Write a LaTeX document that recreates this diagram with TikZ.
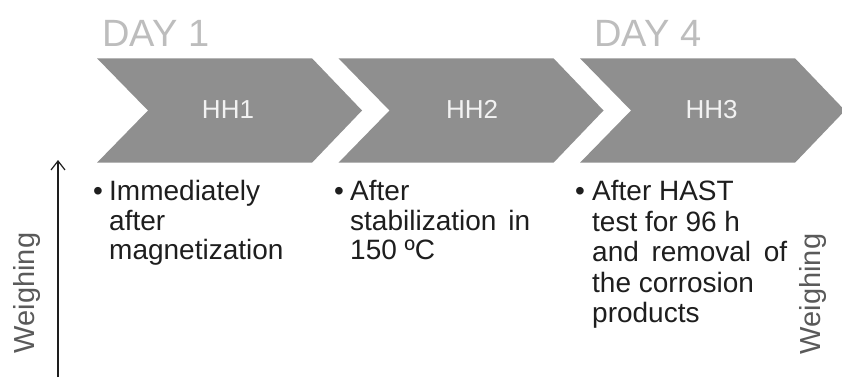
\documentclass[tikz,border=0pt]{standalone}
\usepackage{fontspec}
\setmainfont{Liberation Sans}
\usetikzlibrary{arrows.meta}
\definecolor{chev}{HTML}{8F8F8F}
\definecolor{daygray}{HTML}{BDBDBD}
\definecolor{hhtext}{HTML}{F2F2F2}
\definecolor{bodytext}{HTML}{1E1E1E}
\definecolor{weightext}{HTML}{5A5A5A}
\begin{document}
\begin{tikzpicture}[x=1pt,y=-1pt,
  chevron/.style={fill=chev, draw=none},
  day/.style={text=daygray, font=\fontsize{38}{40}\selectfont, inner sep=0, anchor=base west},
  hh/.style={text=hhtext, font=\fontsize{26}{28}\selectfont, inner sep=0, anchor=base},
  body/.style={text=bodytext, font=\fontsize{28}{30}\selectfont, inner sep=0, anchor=base west},
  weigh/.style={text=weightext, font=\fontsize{29}{31}\selectfont, inner sep=0, anchor=base, rotate=90},
  weigharrow/.style={draw=bodytext, line width=1.2pt, -{Straight Barb[length=9pt,width=14pt]}}]

\useasboundingbox[fill=white] (0,0) rectangle (842,377);

% chevrons
\foreach \dx in {0, 241.5, 483} {
  \fill[chevron] ({97+\dx},58.3) -- ({312+\dx},58.3) -- ({362+\dx},110.5)
     -- ({312+\dx},162.7) -- ({97+\dx},162.7) -- ({148+\dx},110.5) -- cycle;
}

% day labels
\node[day] (day1) at (102,46.5) {DAY 1};
\node[day] (day4) at (594,46.5) {DAY 4};

% chevron labels
\node[hh] (hh1) at (228,118.5) {HH1};
\node[hh] (hh2) at (472,118.5) {HH2};
\node[hh] (hh3) at (711.5,118.5) {HH3};

% column 1
\node[body] (c1b) at (93,200.5) {•};
\node[body] (c1l1) at (109,200.5) {Immediately};
\node[body] (c1l2) at (109,230) {after};
\node[body] (c1l3) at (109,259.5) {magnetization};

% column 2
\node[body] (c2b) at (334,200.5) {•};
\node[body] (c2l1) at (350,200.5) {After};
\node[body] (c2l2) at (350,230) {\makebox[180pt][s]{stabilization in}};
\node[body] (c2l3) at (350,259.5) {150 ºC};

% column 3
\node[body] (c3b) at (575,200.5) {•};
\node[body] (c3l1) at (592,200.5) {After HAST};
\node[body] (c3l2) at (592,231) {test for 96 h};
\node[body] (c3l3) at (592,261.5) {\makebox[195pt][s]{and removal of}};
\node[body] (c3l4) at (592,292) {the corrosion};
\node[body] (c3l5) at (592,322) {products};

% weighing labels and arrow
\node[weigh] (wl) at (34,293) {Weighing};
\node[weigh] (wr) at (820,294) {Weighing};
\coordinate (abot) at (58,377);
\coordinate (atop) at (58,160);
\draw[weigharrow] (abot) -- (atop);
\end{tikzpicture}
\end{document}
